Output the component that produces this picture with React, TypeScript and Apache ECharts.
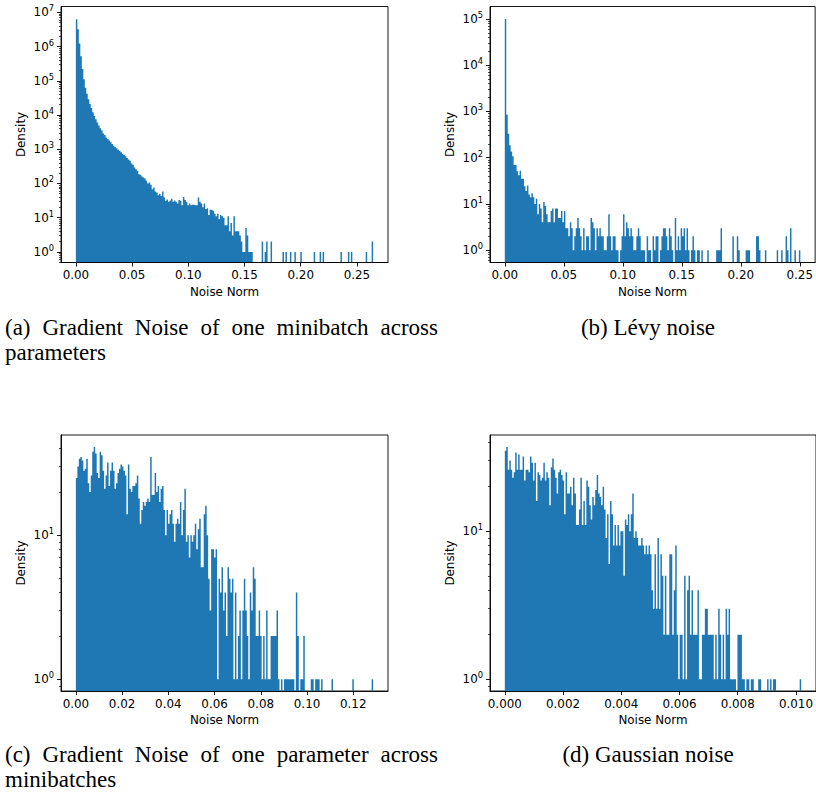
import React, { useEffect, useRef } from "react";
import * as echarts from "echarts";

// ---------------- DATA ----------------
// (a) Gradient noise of one minibatch across parameters: 200 bins on [0, 0.2644]
const aRange = [0, 0.2644];
const aCounts = [
  6300000, 3200000, 1230000, 520000, 220000, 110000, 63000, 42000, 29000, 21000,
  16000, 12000, 9400, 7500, 6000, 4900, 4100, 3500, 2900, 2600,
  2200, 2000, 1800, 1600, 1420, 1260, 1150, 1060, 970, 890,
  810, 740, 680, 620, 550, 500, 460, 380, 350, 290,
  260, 235, 186, 178, 160, 150, 140, 120, 100, 107,
  91, 68, 76, 58, 54, 45, 50, 43, 58, 39,
  31, 34, 29, 32, 36, 29, 32, 29, 26, 33,
  31, 23, 40, 33, 29, 23, 26, 23, 24, 24,
  23, 23, 39, 29, 26, 20, 26, 18, 19, 12,
  17, 17, 16, 13, 11, 13, 9, 12, 11, 10,
  6, 6, 11, 4, 7, 3, 11, 4, 4, 4,
  3, 2, 1, 1, 5, 3, 1, 1, 1, 0,
  0, 0, 0, 0, 0, 2, 0, 1, 2, 0,
  0, 2, 0, 0, 0, 0, 0, 0, 0, 1,
  0, 1, 0, 0, 1, 0, 0, 1, 0, 0,
  0, 1, 0, 0, 0, 0, 0, 0, 0, 0,
  1, 0, 0, 0, 1, 0, 1, 0, 0, 0,
  0, 0, 0, 0, 0, 0, 0, 0, 1, 0,
  0, 0, 0, 1, 0, 1, 0, 0, 0, 0,
  0, 0, 0, 0, 0, 1, 0, 0, 0, 2,
];
const aXTicks = [0, 0.05, 0.1, 0.15, 0.2, 0.25];
const aYTicks = [1, 10, 100, 1e3, 1e4, 1e5, 1e6, 1e7];
const aYLogLimits = [-0.31, 7.17];

// (b) Levy noise: 200 bins on [0, 0.2505]
const bRange = [0, 0.2505];
const bCounts = [
  100000, 850, 330, 185, 137, 107, 70, 70, 51, 42,
  52, 35, 35, 24, 19, 25, 16, 14, 17, 14,
  10, 13, 6, 10, 8, 4, 11, 9, 6, 4,
  4, 7, 8, 4, 8, 8, 5, 5, 7, 4,
  7, 3, 3, 2, 4, 3, 1, 2, 3, 5,
  3, 2, 1, 3, 1, 2, 2, 1, 5, 4,
  3, 1, 3, 2, 3, 2, 2, 1, 1, 2,
  6, 2, 1, 2, 2, 1, 1, 0, 1, 2,
  6, 2, 4, 3, 2, 3, 2, 1, 1, 2,
  3, 2, 1, 1, 1, 0, 2, 1, 1, 0,
  2, 1, 2, 2, 0, 1, 2, 3, 3, 2,
  1, 3, 2, 1, 0, 5, 1, 2, 1, 3,
  2, 3, 1, 3, 1, 0, 1, 2, 1, 0,
  1, 1, 0, 1, 0, 0, 0, 1, 0, 0,
  0, 0, 0, 1, 1, 1, 3, 0, 0, 0,
  0, 0, 0, 0, 2, 0, 0, 2, 1, 0,
  0, 0, 0, 1, 1, 1, 0, 0, 0, 0,
  2, 2, 1, 0, 0, 0, 1, 0, 0, 0,
  0, 0, 0, 0, 1, 0, 0, 1, 0, 0,
  2, 1, 0, 3, 0, 0, 1, 0, 0, 1,
];
const bXTicks = [0, 0.05, 0.1, 0.15, 0.2, 0.25];
const bYTicks = [1, 10, 100, 1e3, 1e4, 1e5];
const bYLogLimits = [-0.266, 5.27];

// (c) Gradient noise of one parameter across minibatches: 200 bins on [0, 0.1286]
const cRange = [0, 0.1286];
const cCounts = [
  25, 30, 34, 35, 33, 28, 29, 34, 23, 20,
  26, 38, 41, 37, 27, 25, 38, 36, 28, 21,
  26, 32, 22, 28, 32, 28, 21, 23, 27, 29,
  31, 30, 28, 26, 14, 31, 21, 20, 22, 22,
  23, 26, 18, 12, 15, 17, 16, 17, 18, 17,
  35, 19, 19, 27, 20, 22, 17, 21, 22, 15,
  10, 15, 12, 14, 15, 12, 9, 12, 13, 12,
  17, 10, 15, 21, 9, 10, 7, 10, 9, 10,
  12, 8, 11, 13, 6, 6, 14, 16, 10, 5,
  3, 8, 8, 7, 8, 1, 5, 4, 6, 3,
  4, 2, 6, 5, 4, 5, 1, 4, 1, 2,
  3, 1, 3, 5, 3, 2, 1, 4, 3, 6,
  5, 2, 2, 3, 2, 1, 2, 1, 3, 1,
  1, 2, 2, 2, 2, 3, 1, 0, 1, 0,
  1, 1, 1, 1, 1, 1, 1, 0, 4, 2,
  0, 1, 1, 2, 0, 0, 0, 0, 1, 1,
  0, 1, 1, 1, 0, 1, 0, 0, 0, 0,
  0, 0, 1, 0, 0, 0, 0, 0, 0, 0,
  0, 0, 0, 0, 0, 0, 1, 0, 0, 0,
  0, 0, 0, 0, 0, 0, 0, 0, 0, 1,
];
const cXTicks = [0, 0.02, 0.04, 0.06, 0.08, 0.1, 0.12];
const cYTicks = [1, 10];
const cYLogLimits = [-0.081, 1.696];

// (d) Gaussian noise: 200 bins on [0, 0.01018]
const dRange = [0, 0.01018];
const dCounts = [
  35, 37, 26, 30, 26, 23, 25, 34, 26, 33,
  26, 26, 32, 22, 26, 26, 25, 32, 29, 22,
  29, 16, 25, 24, 22, 23, 29, 22, 25, 23,
  15, 27, 31, 26, 23, 18, 25, 26, 24, 22,
  13, 25, 18, 18, 20, 15, 23, 18, 11, 11,
  14, 23, 11, 16, 11, 22, 20, 15, 12, 17,
  15, 19, 24, 18, 17, 15, 20, 14, 9, 13,
  6, 16, 13, 8, 11, 8, 11, 8, 10, 10,
  5, 12, 11, 13, 10, 13, 18, 9, 10, 9,
  8, 8, 9, 8, 7, 8, 7, 8, 7, 4,
  3, 7, 3, 9, 3, 7, 5, 2, 5, 2,
  2, 7, 7, 2, 4, 8, 2, 1, 2, 2,
  1, 5, 1, 4, 5, 2, 4, 2, 2, 2,
  4, 1, 1, 2, 2, 3, 3, 2, 2, 2,
  2, 1, 2, 1, 3, 2, 1, 2, 1, 3,
  2, 3, 1, 1, 1, 1, 0, 2, 2, 2,
  1, 1, 0, 1, 1, 0, 1, 1, 0, 0,
  0, 1, 1, 0, 0, 0, 0, 1, 0, 1,
  0, 1, 1, 0, 0, 0, 0, 0, 0, 0,
  0, 0, 0, 0, 0, 0, 0, 0, 0, 1,
];
const dXTicks = [0, 0.002, 0.004, 0.006, 0.008, 0.01];
const dYTicks = [1, 10];
const dYLogLimits = [-0.079, 1.65];

const xAxisName = "Noise Norm";
const yAxisName = "Density";
const captionA = ["(a) Gradient Noise of one minibatch across", "parameters"];
const captionB = "(b) Lévy noise";
const captionC = ["(c) Gradient Noise of one parameter across", "minibatches"];
const captionD = "(d) Gaussian noise";

// ---------------- STYLE / LAYOUT ----------------
const BLUE = "#1f77b4";
const FONT = "DejaVu Sans";
const SERIF = "Liberation Serif";
const TICK_FS = 11.9;
const SUP_FS = 8.3;
const CAP_FS = 23;
const GRID_W = 327;
const GRID_H = 256;

function minorTicks(loExp: number, hiExp: number) {
  const out: number[] = [];
  for (let k = loExp; k <= hiExp; k++) {
    for (let m = 2; m <= 9; m++) out.push(m * Math.pow(10, k));
  }
  return out;
}

const panels = [
  { counts: aCounts, range: aRange, xTicks: aXTicks, yTicks: aYTicks, yLog: aYLogLimits, dec: 2, left: 61, top: 6.5 },
  { counts: bCounts, range: bRange, xTicks: bXTicks, yTicks: bYTicks, yLog: bYLogLimits, dec: 2, left: 490, top: 6.5 },
  { counts: cCounts, range: cRange, xTicks: cXTicks, yTicks: cYTicks, yLog: cYLogLimits, dec: 2, left: 61, top: 435 },
  { counts: dCounts, range: dRange, xTicks: dXTicks, yTicks: dYTicks, yLog: dYLogLimits, dec: 3, left: 490, top: 435 },
];

function measure(text: string, font: string) {
  const ctx = document.createElement("canvas").getContext("2d")!;
  ctx.font = font;
  return ctx.measureText(text).width;
}

function justifiedLine(line: string, x0: number, x1: number, y: number) {
  const font = `${CAP_FS}px "${SERIF}"`;
  const words = line.split(" ");
  const widths = words.map((w) => measure(w, font));
  const total = widths.reduce((s, v) => s + v, 0);
  const gap = (x1 - x0 - total) / (words.length - 1);
  let x = x0;
  return words.map((w, i) => {
    const el = {
      type: "text",
      x,
      y,
      style: { text: w, font, fill: "#000", textAlign: "left", textVerticalAlign: "middle", align: "left", verticalAlign: "middle" },
    };
    x += widths[i] + gap;
    return el;
  });
}

function plainText(text: string, x: number, y: number, align: string) {
  const font = `${CAP_FS}px "${SERIF}"`;
  return {
    type: "text",
    x,
    y,
    style: { text, font, fill: "#000", textAlign: align, textVerticalAlign: "middle", align, verticalAlign: "middle" },
  };
}

function buildOption() {
  const grid: any[] = [];
  const xAxis: any[] = [];
  const yAxis: any[] = [];
  const series: any[] = [];
  const axisLineStyle = { color: "#000", width: 0.9 };
  const labelStyle = { fontSize: TICK_FS, fontFamily: FONT, color: "#000" };

  panels.forEach((p, i) => {
    const span = p.range[1] - p.range[0];
    const xMin = p.range[0] - 0.05 * span;
    const xMax = p.range[1] + 0.05 * span;
    const yMin = Math.pow(10, p.yLog[0]);
    const yMax = Math.pow(10, p.yLog[1]);
    const w = span / p.counts.length;
    // one row per bin: [left edge, right edge, count]
    const rows: number[][] = p.counts.map((c, k) => [p.range[0] + k * w, p.range[0] + (k + 1) * w, c]);

    grid.push({
      left: p.left,
      top: p.top,
      width: GRID_W,
      height: GRID_H,
      show: true,
      borderColor: "#000",
      borderWidth: 0.9,
      backgroundColor: "transparent",
    });
    xAxis.push({
      type: "value",
      gridIndex: i,
      min: xMin,
      max: xMax,
      z: 5,
      name: xAxisName,
      nameLocation: "middle",
      nameGap: 23,
      nameTextStyle: labelStyle,
      axisLine: { show: true, onZero: false, lineStyle: axisLineStyle },
      axisTick: { show: true, length: 4, customValues: p.xTicks, lineStyle: axisLineStyle },
      axisLabel: {
        customValues: p.xTicks,
        margin: 6.5,
        ...labelStyle,
        formatter: (v: number) => v.toFixed(p.dec),
      },
      splitLine: { show: false },
    });
    yAxis.push({
      type: "log",
      logBase: 10,
      gridIndex: i,
      min: yMin,
      max: yMax,
      position: "left",
      z: 5,
      name: yAxisName,
      nameLocation: "middle",
      nameGap: 34,
      nameTextStyle: labelStyle,
      axisLine: { show: true, onZero: false, lineStyle: axisLineStyle },
      axisTick: { show: true, length: 4, customValues: p.yTicks, lineStyle: axisLineStyle },
      axisLabel: {
        customValues: p.yTicks,
        margin: 7,
        formatter: (v: number) => `{b|10}{s|${Math.round(Math.log10(v))}}`,
        rich: {
          b: { fontSize: TICK_FS, fontFamily: FONT, color: "#000", lineHeight: 16 },
          s: { fontSize: SUP_FS, fontFamily: FONT, color: "#000", lineHeight: 11, verticalAlign: "top" },
        },
      },
      splitLine: { show: false },
    });
    yAxis.push({
      type: "log",
      logBase: 10,
      gridIndex: i,
      min: yMin,
      max: yMax,
      position: "left",
      z: 5,
      axisLine: { show: false, onZero: false },
      axisTick: {
        show: true,
        length: 2,
        customValues: minorTicks(Math.floor(p.yLog[0]), Math.ceil(p.yLog[1])),
        lineStyle: { color: "#000", width: 0.7 },
      },
      axisLabel: { show: false },
      splitLine: { show: false },
    });
    // The histogram is drawn as one stepped, filled outline through every bin,
    // each vertex placed with the axes' own scales (api.coord).
    series.push({
      type: "custom",
      coordinateSystem: "cartesian2d",
      xAxisIndex: i,
      yAxisIndex: 2 * i,
      encode: { x: [0, 1], y: 2 },
      data: [rows[0]],
      clip: true,
      silent: true,
      renderItem: (params: any, api: any) => {
        const pts: number[][] = [api.coord([rows[0][0], yMin])];
        rows.forEach((r) => {
          const v = r[2] > 0 ? r[2] : yMin;
          pts.push(api.coord([r[0], v]));
          pts.push(api.coord([r[1], v]));
        });
        pts.push(api.coord([rows[rows.length - 1][1], yMin]));
        return {
          type: "polygon",
          shape: { points: pts },
          style: { fill: BLUE, stroke: null, lineWidth: 0 },
        };
      },
    });
  });

  const graphic: any[] = [
    ...justifiedLine(captionA[0], 5, 438, 327.5),
    plainText(captionA[1], 5, 352.8, "left"),
    plainText(captionB, 648, 327.5, "center"),
    ...justifiedLine(captionC[0], 5, 438, 754.5),
    plainText(captionC[1], 5, 779.8, "left"),
    plainText(captionD, 648, 754.5, "center"),
  ];

  return { animation: false, grid, xAxis, yAxis, series, graphic };
}

export default function App() {
  const ref = useRef<HTMLDivElement>(null);
  useEffect(() => {
    if (!ref.current) return;
    const chart = echarts.init(ref.current, undefined, { renderer: "svg" });
    chart.setOption(buildOption() as any);
    return () => chart.dispose();
  }, []);
  return (
    <div
      ref={ref}
      style={{ position: "absolute", left: 0, top: 0, width: 816, height: 796, background: "#fff" }}
    />
  );
}
